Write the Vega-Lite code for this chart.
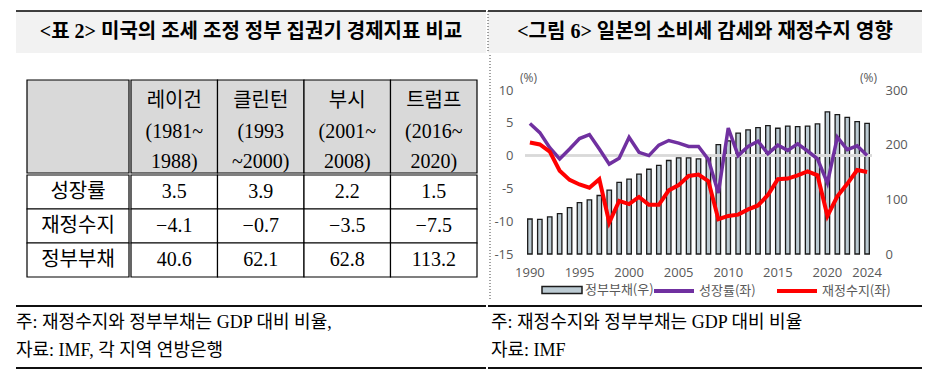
{
  "$schema": "https://vega.github.io/schema/vega-lite/v6.json",
  "background": "white",
  "padding": {"left": 15, "top": 10, "right": 0, "bottom": 0},
  "spacing": 0,
  "config": {
    "view": {"stroke": null},
    "font": "Noto Sans CJK KR",
    "concat": {"spacing": 0},
    "axis": {"domain": false, "ticks": false, "grid": false, "labelFont": "Open Sans", "labelFontSize": 13, "labelColor": "#595959", "titleFont": "Open Sans", "titleFontSize": 12, "titleFontWeight": "normal", "titleColor": "#595959"},
    "axisLeft": {"titleX": 3, "titleY": -13, "titleAngle": 0, "titleAlign": "center", "titleBaseline": "middle", "labelPadding": 12},
    "axisRight": {"titleX": -4, "titleY": -13, "titleAngle": 0, "titleAlign": "center", "titleBaseline": "middle", "labelPadding": 13},
    "axisBottom": {"labelPadding": 12}
  },
  "datasets": {
    "japan": [
      {"year": 1990, "debt": 64, "growth": 4.9, "fiscal": 2.0},
      {"year": 1991, "debt": 63.5, "growth": 3.5, "fiscal": 1.7},
      {"year": 1992, "debt": 68, "growth": 1.2, "fiscal": 0.6},
      {"year": 1993, "debt": 74, "growth": -0.5, "fiscal": -2.3},
      {"year": 1994, "debt": 85, "growth": 1.0, "fiscal": -3.7},
      {"year": 1995, "debt": 94, "growth": 2.6, "fiscal": -4.4},
      {"year": 1996, "debt": 99, "growth": 3.2, "fiscal": -4.9},
      {"year": 1997, "debt": 107, "growth": 1.0, "fiscal": -3.6},
      {"year": 1998, "debt": 117, "growth": -1.3, "fiscal": -10.2},
      {"year": 1999, "debt": 131, "growth": -0.4, "fiscal": -6.9},
      {"year": 2000, "debt": 137, "growth": 2.8, "fiscal": -7.4},
      {"year": 2001, "debt": 146, "growth": 0.5, "fiscal": -6.3},
      {"year": 2002, "debt": 155, "growth": 0.0, "fiscal": -7.5},
      {"year": 2003, "debt": 162, "growth": 1.6, "fiscal": -7.5},
      {"year": 2004, "debt": 171, "growth": 2.3, "fiscal": -5.3},
      {"year": 2005, "debt": 176, "growth": 1.9, "fiscal": -4.5},
      {"year": 2006, "debt": 176, "growth": 1.4, "fiscal": -3.1},
      {"year": 2007, "debt": 174, "growth": 1.4, "fiscal": -2.9},
      {"year": 2008, "debt": 181, "growth": -0.6, "fiscal": -3.9},
      {"year": 2009, "debt": 200, "growth": -5.7, "fiscal": -9.7},
      {"year": 2010, "debt": 207, "growth": 4.2, "fiscal": -9.2},
      {"year": 2011, "debt": 221, "growth": 0.0, "fiscal": -9.0},
      {"year": 2012, "debt": 227, "growth": 1.4, "fiscal": -8.2},
      {"year": 2013, "debt": 231, "growth": 2.2, "fiscal": -7.6},
      {"year": 2014, "debt": 235, "growth": 0.3, "fiscal": -6.0},
      {"year": 2015, "debt": 230, "growth": 1.6, "fiscal": -3.6},
      {"year": 2016, "debt": 234, "growth": 0.8, "fiscal": -3.5},
      {"year": 2017, "debt": 233, "growth": 1.8, "fiscal": -3.0},
      {"year": 2018, "debt": 234, "growth": 0.7, "fiscal": -2.4},
      {"year": 2019, "debt": 238, "growth": -0.5, "fiscal": -3.0},
      {"year": 2020, "debt": 260, "growth": -4.2, "fiscal": -9.2},
      {"year": 2021, "debt": 255, "growth": 2.8, "fiscal": -6.2},
      {"year": 2022, "debt": 250, "growth": 0.9, "fiscal": -4.3},
      {"year": 2023, "debt": 242, "growth": 1.5, "fiscal": -2.2},
      {"year": 2024, "debt": 239, "growth": 0.0, "fiscal": -2.5}
    ],
    "usHead": [
      {"pres": "레이건", "label": "레이건\n(1981~\n1988)"},
      {"pres": "클린턴", "label": "클린턴\n(1993\n~2000)"},
      {"pres": "부시", "label": "부시\n(2001~\n2008)"},
      {"pres": "트럼프", "label": "트럼프\n(2016~\n2020)"}
    ],
    "usBody": [
      {"row": "성장률", "pres": "레이건", "value": 3.5},
      {"row": "성장률", "pres": "클린턴", "value": 3.9},
      {"row": "성장률", "pres": "부시", "value": 2.2},
      {"row": "성장률", "pres": "트럼프", "value": 1.5},
      {"row": "재정수지", "pres": "레이건", "value": -4.1},
      {"row": "재정수지", "pres": "클린턴", "value": -0.7},
      {"row": "재정수지", "pres": "부시", "value": -3.5},
      {"row": "재정수지", "pres": "트럼프", "value": -7.5},
      {"row": "정부부채", "pres": "레이건", "value": 40.6},
      {"row": "정부부채", "pres": "클린턴", "value": 62.1},
      {"row": "정부부채", "pres": "부시", "value": 62.8},
      {"row": "정부부채", "pres": "트럼프", "value": 113.2}
    ]
  },
  "vconcat": [
    {
      "spacing": 0,
      "hconcat": [
        {
          "width": 470, "height": 42,
          "view": {"fill": "#f2f2f2", "stroke": null},
          "data": {"values": [{"title": "<표 2> 미국의 조세 조정 정부 집권기 경제지표 비교"}]},
          "layer": [
            {"mark": {"type": "rule", "color": "#000", "strokeWidth": 1.5}, "encoding": {"y": {"datum": 1, "type": "quantitative", "scale": {"domain": [0, 1]}, "axis": null}}},
            {"mark": {"type": "text", "font": "Liberation Serif, Noto Sans CJK KR", "fontSize": 20, "fontWeight": "bold", "color": "#000"}, "encoding": {"text": {"field": "title"}}}
          ]
        },
        {
          "width": 434, "height": 42,
          "view": {"fill": "#f2f2f2", "stroke": null},
          "data": {"values": [{"title": "<그림 6> 일본의 소비세 감세와 재정수지 영향"}]},
          "layer": [
            {"mark": {"type": "rule", "color": "#000", "strokeWidth": 1.5}, "encoding": {"y": {"datum": 1, "type": "quantitative", "scale": {"domain": [0, 1]}, "axis": null}}},
            {"mark": {"type": "rule", "color": "#444", "strokeWidth": 1, "strokeDash": [1, 2]}, "encoding": {"x": {"datum": 0, "type": "quantitative", "scale": {"domain": [0, 1]}, "axis": null}}},
            {"mark": {"type": "text", "font": "Liberation Serif, Noto Sans CJK KR", "fontSize": 20, "fontWeight": "bold", "color": "#000"}, "encoding": {"text": {"field": "title"}}}
          ]
        }
      ]
    },
    {
      "spacing": 0,
      "hconcat": [
        {"width": 10, "height": 10, "data": {"values": []}, "mark": "text", "encoding": {}},
        {
          "spacing": 0,
          "vconcat": [
            {"width": 448, "height": 24, "data": {"values": []}, "mark": "text", "encoding": {}},
            {
              "spacing": 0,
              "hconcat": [
                {
                  "width": 102, "height": 93,
                  "data": {"values": [{"cell": "corner"}]},
                  "mark": {"type": "rect", "fill": "#d9d9d9", "stroke": "#000", "strokeWidth": 1.2},
                  "encoding": {"y": {"field": "cell", "type": "nominal", "scale": {"paddingInner": 0, "paddingOuter": 0}, "axis": null}}
                },
                {
                  "width": 346, "height": 93,
                  "data": {"name": "usHead"},
                  "layer": [
                    {"mark": {"type": "rect", "fill": "#d9d9d9", "stroke": "#000", "strokeWidth": 1.2},
                     "encoding": {
                       "x": {"field": "pres", "type": "nominal", "sort": null, "scale": {"paddingInner": 0, "paddingOuter": 0}, "axis": null},
                       "y": {"datum": "head", "type": "nominal", "scale": {"paddingInner": 0, "paddingOuter": 0}, "axis": null}}},
                    {"mark": {"type": "text", "font": "Liberation Serif, Noto Sans CJK KR", "fontSize": 20, "lineBreak": "\n", "lineHeight": 30.5, "dy": -25.5, "color": "#000"},
                     "encoding": {"x": {"field": "pres", "type": "nominal", "sort": null, "axis": null}, "text": {"field": "label"}}}
                  ]
                }
              ]
            },
            {
              "spacing": 0,
              "hconcat": [
                {
                  "width": 102, "height": 102,
                  "data": {"values": [{"row": "성장률"}, {"row": "재정수지"}, {"row": "정부부채"}]},
                  "layer": [
                    {"mark": {"type": "rect", "fill": "white", "stroke": "#000", "strokeWidth": 1.2},
                     "encoding": {"y": {"field": "row", "type": "nominal", "sort": null, "scale": {"paddingInner": 0, "paddingOuter": 0}, "axis": null}}},
                    {"mark": {"type": "text", "font": "Liberation Serif, Noto Sans CJK KR", "fontSize": 20, "color": "#000"},
                     "encoding": {"y": {"field": "row", "type": "nominal", "sort": null, "axis": null}, "text": {"field": "row"}}}
                  ]
                },
                {
                  "width": 346, "height": 102,
                  "data": {"name": "usBody"},
                  "layer": [
                    {"mark": {"type": "rect", "fill": "white", "stroke": "#000", "strokeWidth": 1.2},
                     "encoding": {
                       "x": {"field": "pres", "type": "nominal", "sort": null, "scale": {"paddingInner": 0, "paddingOuter": 0}, "axis": null},
                       "y": {"field": "row", "type": "nominal", "sort": null, "scale": {"paddingInner": 0, "paddingOuter": 0}, "axis": null}}},
                    {"mark": {"type": "text", "font": "Liberation Serif, Noto Sans CJK KR", "fontSize": 20, "color": "#000"},
                     "encoding": {
                       "x": {"field": "pres", "type": "nominal", "sort": null, "axis": null},
                       "y": {"field": "row", "type": "nominal", "sort": null, "axis": null},
                       "text": {"field": "value", "type": "quantitative", "format": ".1f"}}}
                  ]
                }
              ]
            },
            {"width": 448, "height": 27, "data": {"values": []}, "mark": "text", "encoding": {}}
          ]
        },
        {
          "width": 12, "height": 246,
          "data": {"values": [{}]},
          "mark": {"type": "rule", "color": "#444", "strokeWidth": 1, "strokeDash": [1, 2]},
          "encoding": {"x": {"datum": 1, "type": "quantitative", "scale": {"domain": [0, 1]}, "axis": null}}
        },
        {
          "spacing": 0,
          "vconcat": [
            {"width": 434, "height": 16, "data": {"values": []}, "mark": "text", "encoding": {}},
            {
              "spacing": 0,
              "hconcat": [
                {"width": 2, "height": 10, "data": {"values": []}, "mark": "text", "encoding": {}},
                {
                  "width": 347, "height": 164,
                  "data": {"name": "japan"},
                  "layer": [
                    {
                      "mark": {"type": "bar", "stroke": "#1a1a1a", "strokeWidth": 1.3},
                      "encoding": {
                        "x": {"field": "year", "type": "ordinal", "scale": {"paddingInner": 0.55, "paddingOuter": 0.27},
                              "axis": {"values": [1990, 1995, 2000, 2005, 2010, 2015, 2020, 2024], "labelAngle": 0, "title": null}},
                        "y": {"field": "debt", "type": "quantitative", "scale": {"domain": [0, 300], "nice": false},
                              "axis": {"orient": "right", "values": [0, 100, 200, 300], "title": "(%)"}},
                        "fill": {
                          "datum": "정부부채(우)",
                          "scale": {"domain": ["정부부채(우)"], "range": ["#bccbd3"]},
                          "legend": {
                            "title": null, "orient": "none", "legendX": 525, "legendY": 268, "direction": "horizontal",
                            "symbolType": "M-1,-0.35H3V0.35H-1Z", "symbolSize": 400, "labelOffset": 22,
                            "symbolStrokeColor": "#1a1a1a", "symbolStrokeWidth": 1.5,
                            "labelFont": "Noto Sans CJK KR", "labelFontSize": 13, "labelColor": "#595959"
                          }
                        }
                      }
                    },
                    {
                      "layer": [
                        {"mark": {"type": "rule", "color": "#d9d9d9", "strokeWidth": 1.5},
                         "encoding": {"y": {"datum": 0, "type": "quantitative", "scale": {"domain": [-15, 10], "nice": false, "zero": false},
                                            "axis": {"orient": "left", "values": [-15, -10, -5, 0, 5, 10], "title": "(%)", "labelExpr": "'' + datum.value"}}}},
                        {"mark": {"type": "line", "strokeWidth": 3.5},
                         "encoding": {"x": {"field": "year", "type": "ordinal"},
                                      "y": {"field": "growth", "type": "quantitative", "scale": {"domain": [-15, 10], "nice": false, "zero": false},
                                            "axis": {"orient": "left", "values": [-15, -10, -5, 0, 5, 10], "title": "(%)", "labelExpr": "'' + datum.value"}},
                                      "stroke": {"datum": "성장률(좌)",
                                                 "scale": {"domain": ["성장률(좌)", "재정수지(좌)"], "range": ["#7030a0", "#ff0000"]},
                                                 "legend": {"title": null, "orient": "none", "legendX": 636, "legendY": 258, "direction": "horizontal",
                                                            "symbolType": "stroke", "symbolSize": 1600, "symbolStrokeWidth": 4, "labelOffset": 3, "columnPadding": 13,
                                                            "labelFont": "Noto Sans CJK KR", "labelFontSize": 13, "labelColor": "#595959"}}}},
                        {"mark": {"type": "line", "strokeWidth": 4},
                         "encoding": {"x": {"field": "year", "type": "ordinal"},
                                      "y": {"field": "fiscal", "type": "quantitative", "scale": {"domain": [-15, 10], "nice": false, "zero": false},
                                            "axis": {"orient": "left", "values": [-15, -10, -5, 0, 5, 10], "title": "(%)", "labelExpr": "'' + datum.value"}},
                                      "stroke": {"datum": "재정수지(좌)"}}}
                      ]
                    }
                  ],
                  "resolve": {"scale": {"y": "independent"}}
                }
              ]
            }
          ]
        }
      ]
    },
    {
      "spacing": 0,
      "hconcat": [
        {
          "width": 470, "height": 62,
          "data": {"values": [{"line": "주: 재정수지와 정부부채는 GDP 대비 비율,"}, {"line": "자료: IMF, 각 지역 연방은행"}]},
          "layer": [
            {"mark": {"type": "rule", "color": "#000", "strokeWidth": 1.5}, "encoding": {"y": {"datum": 1, "type": "quantitative", "scale": {"domain": [0, 1]}, "axis": null}}},
            {"mark": {"type": "rule", "color": "#000", "strokeWidth": 1.5}, "encoding": {"y": {"datum": 0, "type": "quantitative", "scale": {"domain": [0, 1]}, "axis": null}}},
            {"mark": {"type": "text", "align": "left", "font": "Liberation Serif, Noto Sans CJK KR", "fontSize": 18, "color": "#000"},
             "encoding": {
               "x": {"datum": 0, "type": "quantitative", "scale": {"domain": [0, 1]}, "axis": null},
               "y": {"field": "line", "type": "nominal", "sort": null, "scale": {"type": "point", "padding": 0.607}, "axis": null},
               "text": {"field": "line"}}}
          ],
          "resolve": {"scale": {"y": "independent"}}
        },
        {
          "width": 434, "height": 62,
          "data": {"values": [{"line": "주: 재정수지와 정부부채는 GDP 대비 비율"}, {"line": "자료: IMF"}]},
          "layer": [
            {"mark": {"type": "rule", "color": "#000", "strokeWidth": 1.5}, "encoding": {"y": {"datum": 1, "type": "quantitative", "scale": {"domain": [0, 1]}, "axis": null}}},
            {"mark": {"type": "rule", "color": "#000", "strokeWidth": 1.5}, "encoding": {"y": {"datum": 0, "type": "quantitative", "scale": {"domain": [0, 1]}, "axis": null}}},
            {"mark": {"type": "text", "align": "left", "dx": 3, "font": "Liberation Serif, Noto Sans CJK KR", "fontSize": 18, "color": "#000"},
             "encoding": {
               "x": {"datum": 0, "type": "quantitative", "scale": {"domain": [0, 1]}, "axis": null},
               "y": {"field": "line", "type": "nominal", "sort": null, "scale": {"type": "point", "padding": 0.607}, "axis": null},
               "text": {"field": "line"}}}
          ],
          "resolve": {"scale": {"y": "independent"}}
        }
      ]
    }
  ]
}
